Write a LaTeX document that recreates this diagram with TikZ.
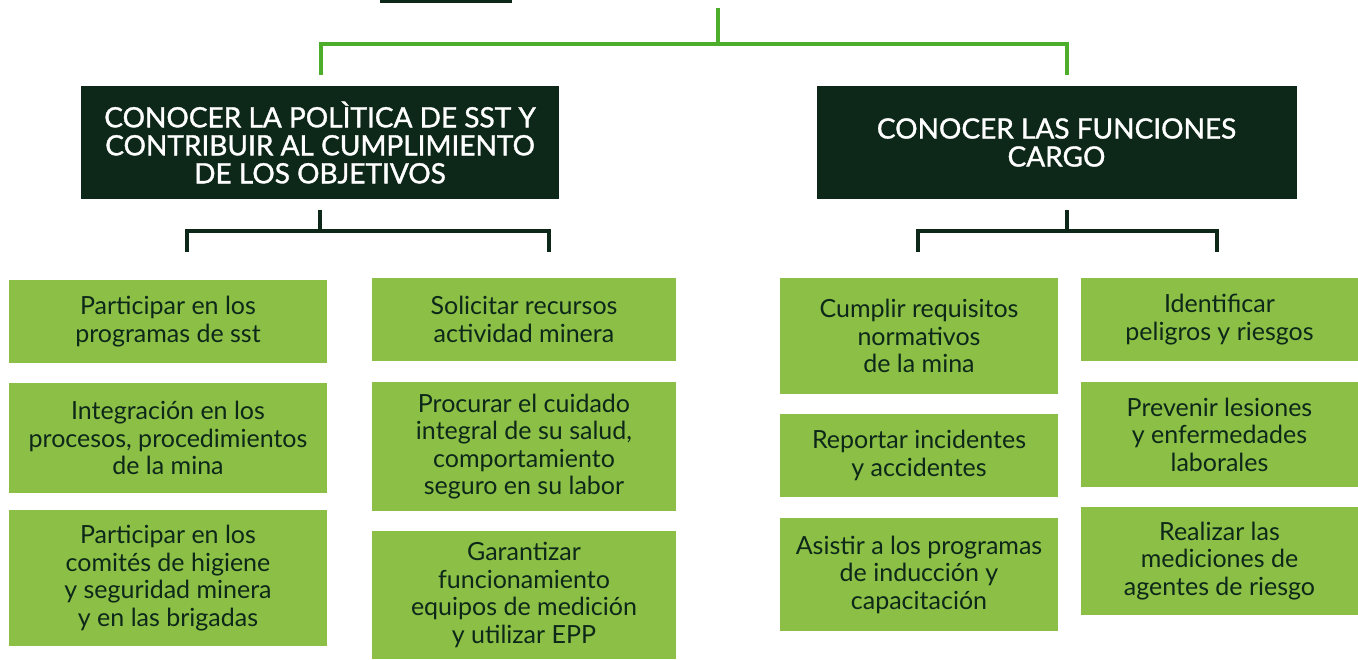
\documentclass[tikz,border=0pt]{standalone}
\usepackage{fontspec}
\setmainfont{Lato}
\newfontfamily\headfont{Lato}[FakeBold=1.2]
\definecolor{pine}{HTML}{0D2819}
\definecolor{leaf}{HTML}{8CBF46}
\definecolor{grass}{HTML}{4DAE2B}

\begin{document}
\begin{tikzpicture}[x=1pt, y=-1pt,
    heading/.style ={fill=pine, text=white, align=center, inner sep=0pt, minimum height=113pt, font=\headfont\fontsize{28}{28}\selectfont},
    duty/.style ={fill=leaf, text=pine, align=center, inner sep=0pt, font=\fontsize{25}{27.5}\selectfont},
    trunk/.style ={grass, line width=4pt, line join=miter},
    branch/.style ={pine, line width=4pt, line join=miter}]
   \useasboundingbox (0,0) rectangle (1358,659);
   \fill[pine] (380,0) rectangle (512,3);
   \node[heading, minimum width=478pt] (pol) at (320,142.5) {CONOCER LA POLÌTICA DE SST Y\\CONTRIBUIR AL CUMPLIMIENTO\\DE LOS OBJETIVOS};
   \node[heading, minimum width=480pt] (fun) at (1056.5,142.5) {CONOCER LAS FUNCIONES\\CARGO};
   \node[duty, minimum width=318pt, minimum height=83pt] (A1) at (168,321.5) {Participar en los\\programas de sst};
   \node[duty, minimum width=318pt, minimum height=110pt] (A2) at (168,438) {Integración en los\\procesos, procedimientos\\de la mina};
   \node[duty, minimum width=318pt, minimum height=136pt] (A3) at (168,578) {Participar en los\\comités de higiene\\y seguridad minera\\y en las brigadas};
   \node[duty, minimum width=304pt, minimum height=83pt] (B1) at (524,319.5) {Solicitar recursos\\actividad minera};
   \node[duty, minimum width=304pt, minimum height=129pt] (B2) at (524,446.5) {Procurar el cuidado\\integral de su salud,\\comportamiento\\seguro en su labor};
   \node[duty, minimum width=304pt, minimum height=128pt] (B3) at (524,595) {Garantizar\\funcionamiento\\equipos de medición\\y utilizar EPP};
   \node[duty, minimum width=278pt, minimum height=116pt] (C1) at (919,336) {Cumplir requisitos\\normativos\\de la mina};
   \node[duty, minimum width=278pt, minimum height=83pt] (C2) at (919,455.5) {Reportar incidentes\\y accidentes};
   \node[duty, minimum width=278pt, minimum height=113pt] (C3) at (919,574.5) {Asistir a los programas\\de inducción y\\capacitación};
   \node[duty, minimum width=277pt, minimum height=83pt] (D1) at (1219.5,319.5) {Identificar\\peligros y riesgos};
   \node[duty, minimum width=277pt, minimum height=105pt] (D2) at (1219.5,434.5) {Prevenir lesiones\\y enfermedades\\laborales};
   \node[duty, minimum width=277pt, minimum height=108pt] (D3) at (1219.5,561) {Realizar las\\mediciones de\\agentes de riesgo};
   \coordinate (root) at (718,8);
   \coordinate (fork) at (718,44);
   \coordinate (polIn) at (321,75);
   \coordinate (funIn) at (1067,75);
   \coordinate (polOut) at (320,210);
   \coordinate (polFork) at (320,231);
   \coordinate (funOut) at (1066.5,210);
   \coordinate (funFork) at (1066.5,231);
   \draw[trunk] (root) -- (fork);
   \draw[trunk] (polIn) |- (fork) -| (funIn);
   \draw[branch] (polOut) -- (polFork);
   \draw[branch] (187,252) |- (polFork) -| (549,252);
   \draw[branch] (funOut) -- (funFork);
   \draw[branch] (918,252) |- (funFork) -| (1217,252);
 \end{tikzpicture}
\end{document}
